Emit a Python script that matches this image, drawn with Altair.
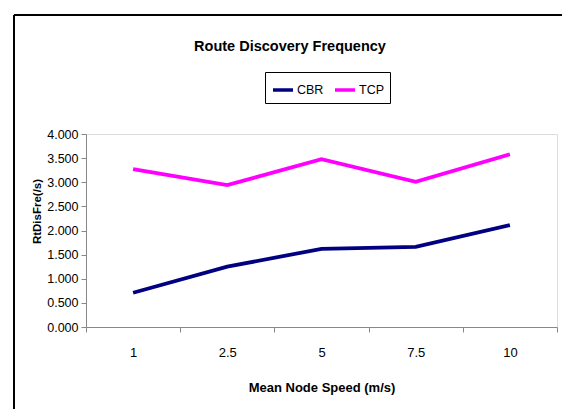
import altair as alt
import pandas as pd

# Mean node speed categories (m/s) and route discovery frequency per traffic type
speeds = ["1", "2.5", "5", "7.5", "10"]
cbr = [0.71, 1.25, 1.62, 1.66, 2.11]
tcp = [3.27, 2.94, 3.48, 3.01, 3.58]
series = ["CBR", "TCP"]
colors = ["#000080", "#FF00FF"]
y_ticks = [0, 0.5, 1, 1.5, 2, 2.5, 3, 3.5, 4]
title_text = "Route Discovery Frequency"

rows = []
for name, vals in zip(series, [cbr, tcp]):
    for s, v in zip(speeds, vals):
        rows.append({"speed": s, "value": v, "series": name})
df = pd.DataFrame(rows)

FONT = "Liberation Sans"

lines = alt.Chart(df).mark_line(strokeWidth=3.8).encode(
    x=alt.X(
        "speed:O",
        sort=speeds,
        scale=alt.Scale(type="band", paddingInner=0, paddingOuter=0),
        axis=alt.Axis(
            title="Mean Node Speed (m/s)",
            labelAngle=0,
            tickBand="extent",
            tickSize=5,
            labelFontSize=13,
            labelPadding=14,
            titlePadding=22,
            titleFontSize=13,
        ),
    ),
    y=alt.Y(
        "value:Q",
        scale=alt.Scale(domain=[0, 4], nice=False),
        axis=alt.Axis(
            title="RtDisFre(/s)",
            values=y_ticks,
            format=".3f",
            tickSize=5,
            labelPadding=3,
            labelFontSize=12.5,
            titleFontSize=11.5,
            titleY=77,
            titleX=-44,
            grid=False,
        ),
    ),
    color=alt.Color(
        "series:N",
        scale=alt.Scale(domain=series, range=colors),
        legend=alt.Legend(
            title=None,
            orient="none",
            legendX=179,
            legendY=-62,
            direction="horizontal",
            symbolType="stroke",
            symbolStrokeWidth=3.5,
            symbolSize=400,
            strokeColor="black",
            padding=6,
            columnPadding=4,
            labelOffset=2,
            labelFontSize=12.5,
            labelFont=FONT,
            labelColor="black",
        ),
    ),
)

# chart heading drawn as a text mark above the plot
heading_df = pd.DataFrame({"t": [title_text]})
heading = alt.Chart(heading_df).mark_text(
    font=FONT, fontSize=14.5, fontWeight="bold", color="black",
    align="center", baseline="alphabetic",
).encode(text="t:N", x=alt.value(204), y=alt.value(-83))

# outer frame edges (left and top)
frame_df = pd.DataFrame({"k": [0]})
left_edge = alt.Chart(frame_df).mark_rule(color="black", strokeWidth=2).encode(
    x=alt.value(-72), y=alt.value(-119), y2=alt.value(280)
)
top_edge = alt.Chart(frame_df).mark_rule(color="black", strokeWidth=2).encode(
    x=alt.value(-72), x2=alt.value(480), y=alt.value(-119)
)

chart = (
    alt.layer(lines, heading, left_edge, top_edge)
    .properties(
        width=471,
        height=193,
        autosize=alt.AutoSizeParams(type="none"),
        padding={"left": 86, "top": 134, "right": 5, "bottom": 82},
    )
    .configure_view(stroke="black", strokeWidth=1)
    .configure_axis(
        domainColor="black",
        tickColor="black",
        labelColor="black",
        titleColor="black",
        labelFont=FONT,
        titleFont=FONT,
        labelFontSize=12,
        titleFontSize=12,
        titleFontWeight="bold",
        labelFontWeight="normal",
    )
    .configure(background="white")
)

chart.save("out.html", embed_options={"renderer": "svg", "actions": False})
